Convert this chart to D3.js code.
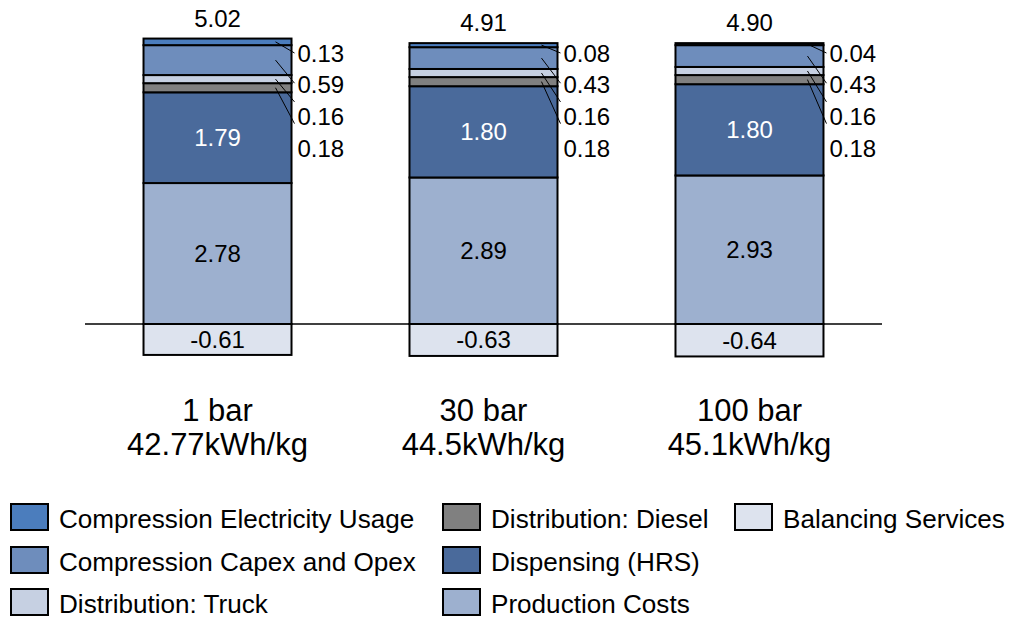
<!DOCTYPE html>
<html><head><meta charset="utf-8">
<script src="https://cdn.jsdelivr.net/npm/d3@7"></script>
<style>
html,body{margin:0;padding:0;background:#fff;}
text{font-family:"Liberation Sans",Arial,sans-serif;}
</style></head>
<body>
<svg id="chart" width="1009" height="618"></svg>
<script>
const categories = ["1 bar", "30 bar", "100 bar"];
const subtitles = ["42.77kWh/kg", "44.5kWh/kg", "45.1kWh/kg"];
const seriesNames = ["Production Costs", "Dispensing (HRS)", "Distribution: Diesel", "Distribution: Truck", "Compression Capex and Opex", "Compression Electricity Usage"];
const production = [2.78, 2.89, 2.93];
const dispensing = [1.79, 1.80, 1.80];
const diesel = [0.18, 0.18, 0.18];
const truck = [0.16, 0.16, 0.16];
const capex = [0.59, 0.43, 0.43];
const electricity = [0.13, 0.08, 0.04];
const balancing = [-0.61, -0.63, -0.64];
const totals = [5.02, 4.91, 4.90];
const legendOrder = ["Compression Electricity Usage", "Compression Capex and Opex", "Distribution: Truck", "Distribution: Diesel", "Dispensing (HRS)", "Production Costs", "Balancing Services"];

const colors = {
  "Compression Electricity Usage": "#4b7dbd",
  "Compression Capex and Opex": "#6e8dbc",
  "Distribution: Truck": "#c6d0e2",
  "Distribution: Diesel": "#808080",
  "Dispensing (HRS)": "#4a6a9b",
  "Production Costs": "#9db0cf",
  "Balancing Services": "#dde3ee"
};

const fmt = v => v.toFixed(2);
const seriesValues = [production, dispensing, diesel, truck, capex, electricity];
const svg = d3.select("#chart");

const x = d3.scaleBand().domain(categories).range([85, 882]).paddingInner(0.4436).paddingOuter(0.22);
const y = d3.scaleLinear().domain([-1, 6]).range([374.7, 19.8]);

const rows = categories.map((c, i) => {
  const r = {cat: c};
  seriesNames.forEach((s, j) => r[s] = seriesValues[j][i]);
  return r;
});
const stacked = d3.stack().keys(seriesNames)(rows);

const fs = 24;
stacked.forEach(layer => {
  svg.append("g").selectAll("rect").data(layer).join("rect")
    .attr("x", d => x(d.data.cat))
    .attr("width", x.bandwidth())
    .attr("y", d => y(d[1]))
    .attr("height", d => y(d[0]) - y(d[1]))
    .attr("fill", colors[layer.key])
    .attr("stroke", "#000").attr("stroke-width", 2);
});
svg.append("g").selectAll("rect").data(categories).join("rect")
  .attr("x", c => x(c)).attr("width", x.bandwidth())
  .attr("y", y(0)).attr("height", (c, i) => y(balancing[i]) - y(0))
  .attr("fill", colors["Balancing Services"])
  .attr("stroke", "#000").attr("stroke-width", 2);

svg.append("line").attr("x1", 85).attr("x2", 882).attr("y1", y(0)).attr("y2", y(0))
  .attr("stroke", "#000").attr("stroke-width", 1.5);

const prodLayer = stacked[0], dispLayer = stacked[1];
svg.append("g").selectAll("text").data(prodLayer).join("text")
  .attr("x", d => x(d.data.cat) + x.bandwidth() / 2)
  .attr("y", d => (y(d[0]) + y(d[1])) / 2 + fs * 0.35)
  .attr("text-anchor", "middle").attr("font-size", fs).attr("fill", "#000")
  .text(d => fmt(d[1] - d[0]));
svg.append("g").selectAll("text").data(dispLayer).join("text")
  .attr("x", d => x(d.data.cat) + x.bandwidth() / 2)
  .attr("y", d => (y(d[0]) + y(d[1])) / 2 + fs * 0.35)
  .attr("text-anchor", "middle").attr("font-size", fs).attr("fill", "#fff")
  .text(d => fmt(d[1] - d[0]));
svg.append("g").selectAll("text").data(categories).join("text")
  .attr("x", c => x(c) + x.bandwidth() / 2)
  .attr("y", (c, i) => (y(0) + y(balancing[i])) / 2 + fs * 0.35)
  .attr("text-anchor", "middle").attr("font-size", fs).attr("fill", "#000")
  .text((c, i) => fmt(balancing[i]));

svg.append("g").selectAll("text").data(categories).join("text")
  .attr("x", c => x(c) + x.bandwidth() / 2)
  .attr("y", (c, i) => y(stacked[5][i][1]) - 12)
  .attr("text-anchor", "middle").attr("font-size", fs).attr("fill", "#000")
  .text((c, i) => fmt(totals[i]));

const sideLayers = [5, 4, 3, 2];
const labelBase = 61.5, labelStep = 31.7;
const leaderEndOffsets = [-8.5, -10, -23, -33];
categories.forEach((c, i) => {
  const right = x(c) + x.bandwidth();
  sideLayers.forEach((li, k) => {
    const d = stacked[li][i];
    const by = labelBase + k * labelStep;
    svg.append("line")
      .attr("x1", right - 16).attr("y1", (y(d[0]) + y(d[1])) / 2)
      .attr("x2", right + 3).attr("y2", by + leaderEndOffsets[k])
      .attr("stroke", "#000").attr("stroke-width", 1);
    svg.append("text").attr("x", right + 6).attr("y", by)
      .attr("font-size", fs).attr("fill", "#000")
      .text(fmt(d[1] - d[0]));
  });
});

const catG = svg.append("g").selectAll("g").data(categories).join("g");
catG.append("text").attr("x", c => x(c) + x.bandwidth() / 2).attr("y", 421)
  .attr("text-anchor", "middle").attr("font-size", 31).text(c => c);
catG.append("text").attr("x", c => x(c) + x.bandwidth() / 2).attr("y", 455)
  .attr("text-anchor", "middle").attr("font-size", 31).text((c, i) => subtitles[i]);

const legendCols = [10, 442, 734];
const legendRows = [503, 546, 588];
legendOrder.forEach((name, i) => {
  const col = Math.floor(i / 3), row = i % 3;
  const g = svg.append("g").attr("transform", `translate(${legendCols[col]},${legendRows[row]})`);
  g.append("rect").attr("x", 1).attr("y", 1).attr("width", 37).attr("height", 26)
    .attr("fill", colors[name]).attr("stroke", "#000").attr("stroke-width", 2);
  g.append("text").attr("x", 49).attr("y", 25).attr("font-size", 26.1).attr("fill", "#000").text(name);
});
</script>
</body></html>
